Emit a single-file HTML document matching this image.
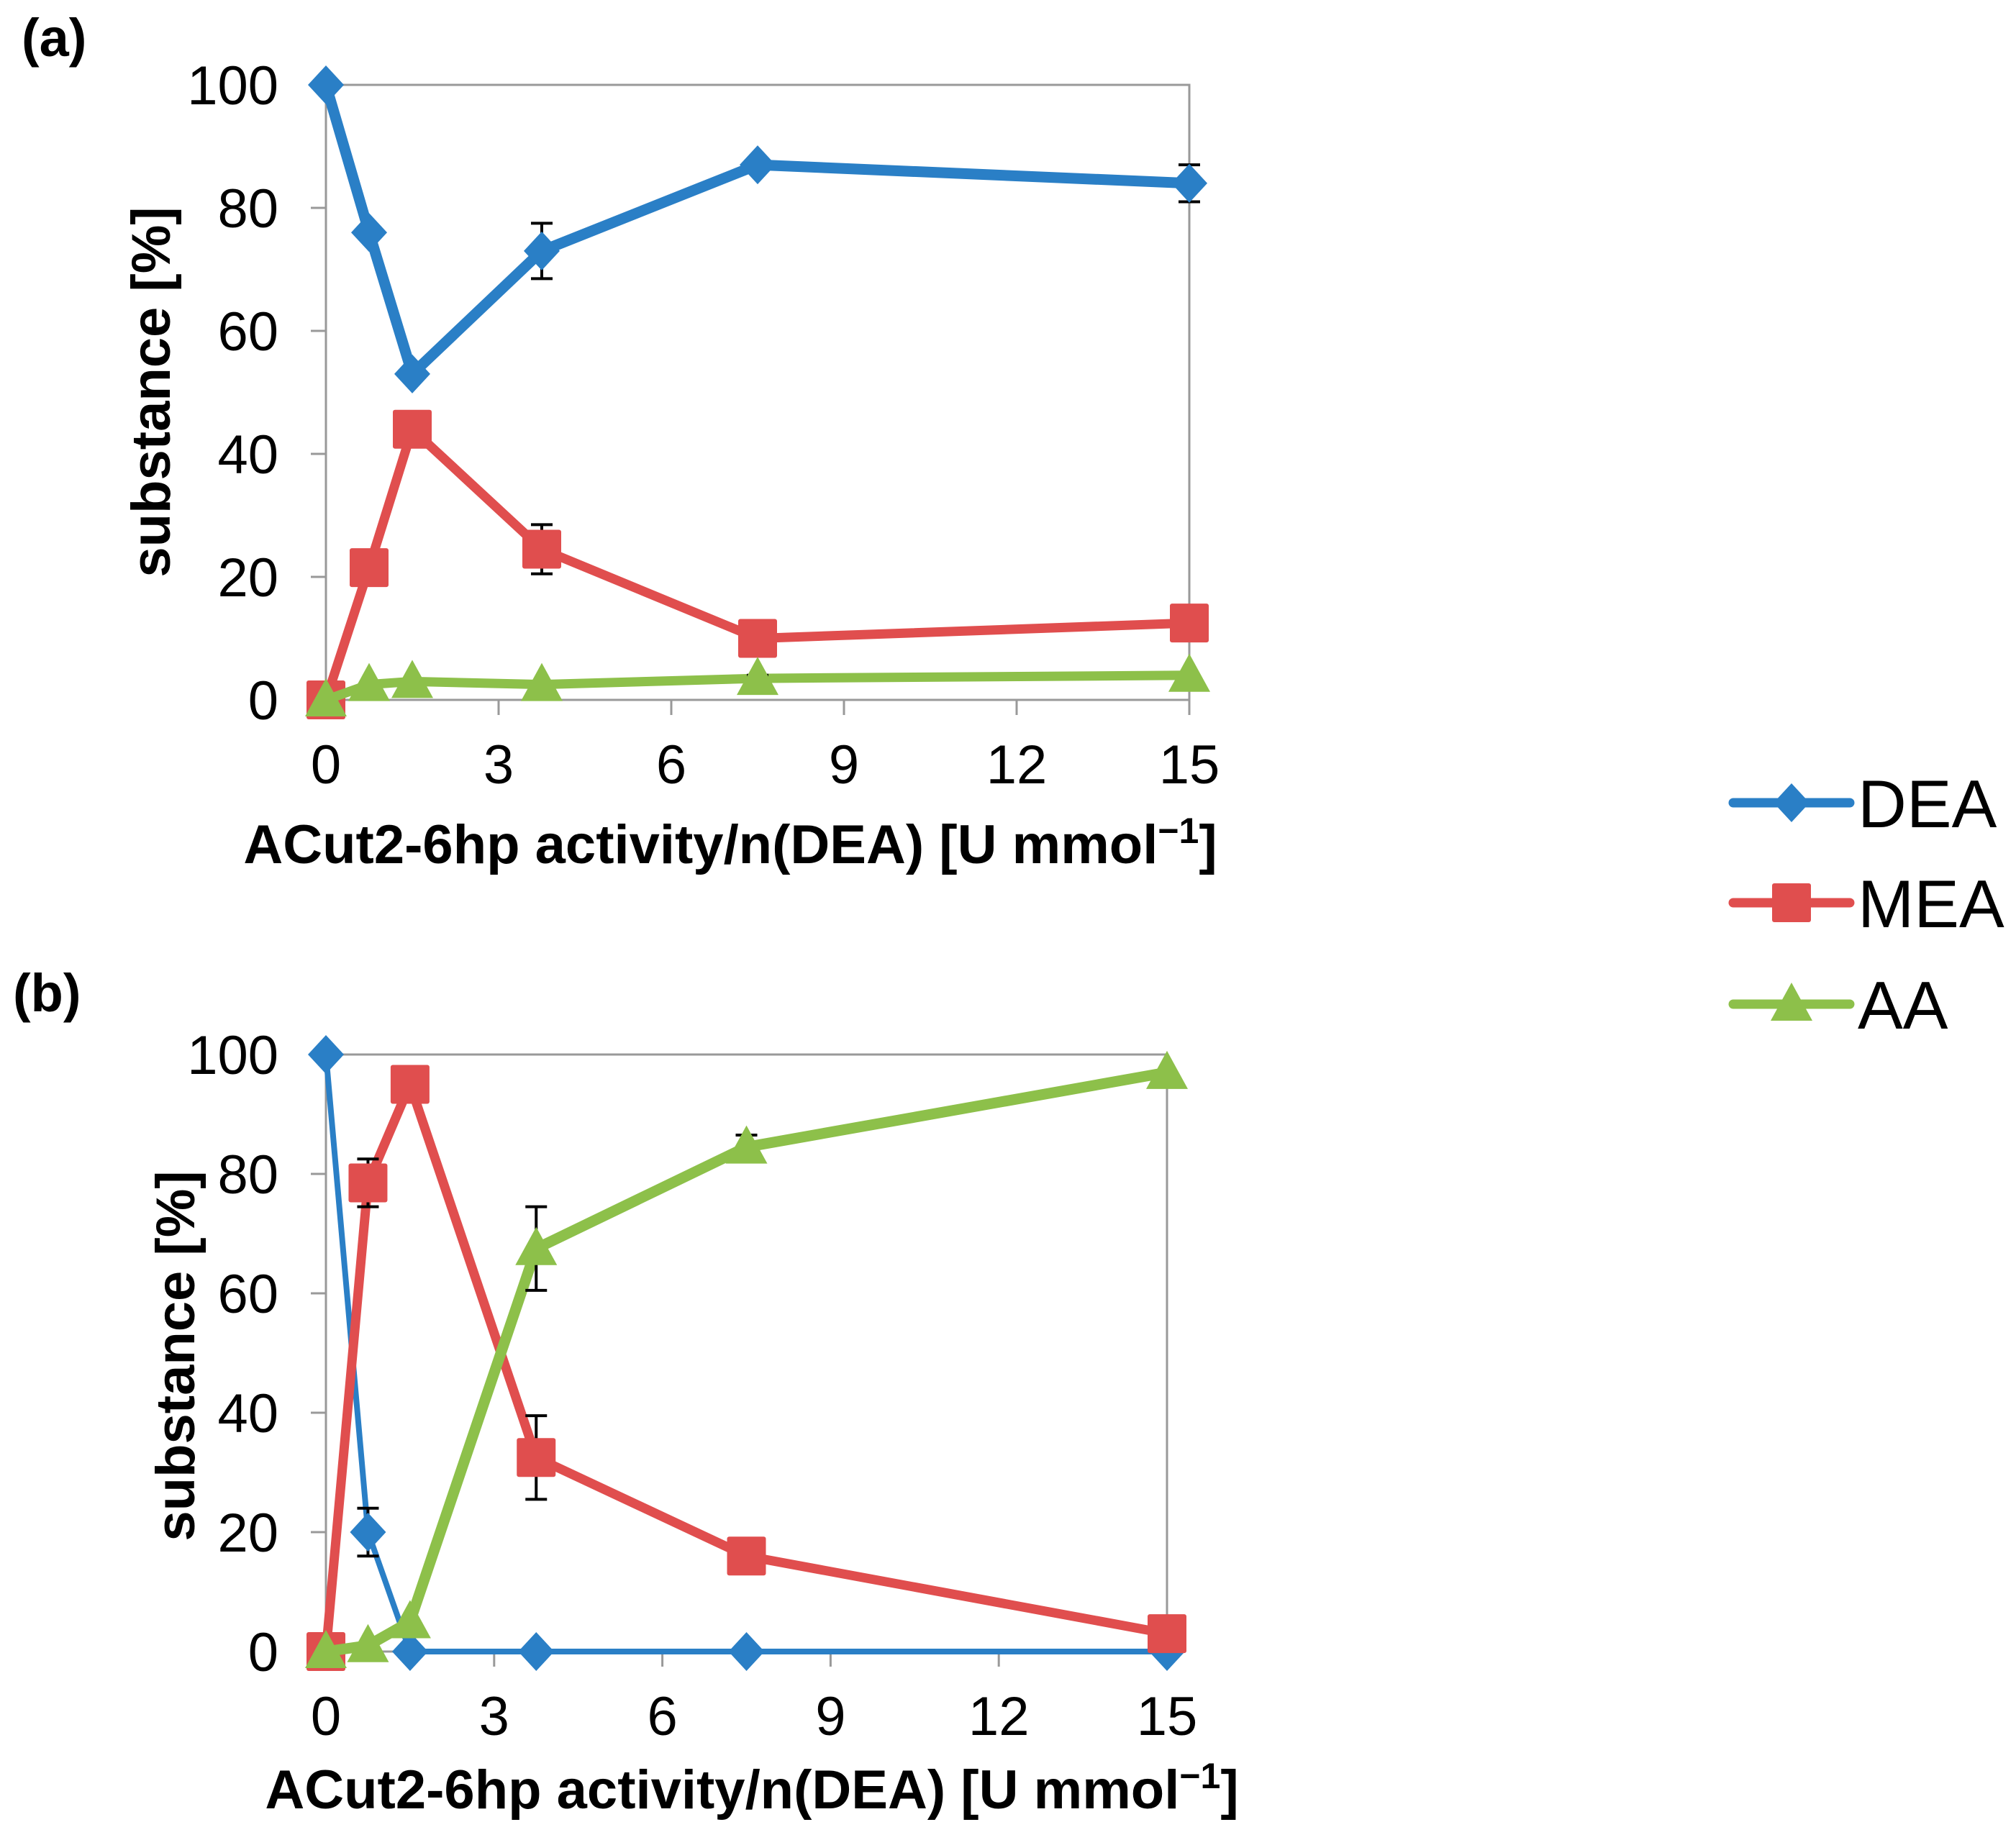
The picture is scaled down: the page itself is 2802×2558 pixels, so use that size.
<!DOCTYPE html>
<html><head><meta charset="utf-8"><style>
html,body{margin:0;padding:0;background:#fff;}
svg{display:block;}
text{font-family:"Liberation Sans",Arial,sans-serif;}
</style></head><body>
<svg id="fig" width="2802" height="2558" viewBox="0 0 2802 2558" xmlns="http://www.w3.org/2000/svg">
<rect width="2802" height="2558" fill="#fff"/>
<text x="30" y="78" font-size="74" font-weight="bold">(a)</text>
<text x="18" y="1406" font-size="74" font-weight="bold">(b)</text>
<g id="legend"></g>
</svg>
<script>
const xValues = [0, 0.75, 1.5, 3.75, 7.5, 15];
const xTicks = [0, 3, 6, 9, 12, 15];
const yTicks = [0, 20, 40, 60, 80, 100];
const seriesNames = ["DEA", "MEA", "AA"];
const colors = ["#2a7fc6", "#e04e4e", "#8dc04a"];

const aDEA = [100, 76, 53, 73, 87, 84];
const aMEA = [0, 21.5, 44, 24.5, 10, 12.5];
const aAA  = [0, 2.5, 3, 2.5, 3.5, 4];
const aDEAerr = [0, 0, 0, 4.5, 1, 3];
const aMEAerr = [0, 0, 0, 4, 0, 0];
const aAAerr  = [0, 0, 0, 0, 0.5, 0];

const bDEA = [100, 20, 0, 0, 0, 0];
const bMEA = [0, 78.5, 95, 32.5, 16, 3];
const bAA  = [0, 1, 5, 67.5, 84.5, 97];
const bDEAerr = [0, 4, 0, 0, 0, 0];
const bMEAerr = [0, 4, 0, 7, 0, 0];
const bAAerr  = [0, 0, 0, 7, 2, 0];

const NS = "http://www.w3.org/2000/svg";
const svg = document.getElementById("fig");
function mk(tag, attrs, parent){
  const e = document.createElementNS(NS, tag);
  for (const k in attrs) e.setAttribute(k, attrs[k]);
  (parent||svg).appendChild(e);
  return e;
}
function marker(kind, cx, cy, color, g){
  let e;
  if (kind === 0) e = mk("polygon", {points:`${cx},${cy-27} ${cx+25},${cy} ${cx},${cy+27} ${cx-25},${cy}`, fill:color}, g);
  else if (kind === 1) e = mk("rect", {x:cx-27, y:cy-27, width:54, height:54, rx:3, fill:color}, g);
  else e = mk("polygon", {points:`${cx},${cy-30} ${cx+29},${cy+23} ${cx-29},${cy+23}`, fill:color}, g);
  return e;
}
function drawPanel(p){
  const sx = v => p.x0 + (v - 0) / 15 * (p.x1 - p.x0);
  const sy = v => p.y0 - v / 100 * (p.y0 - p.y1);
  const g = mk("g", {});
  
  
  const fr = mk("rect", {x:p.x0, y:p.y1, width:p.x1-p.x0, height:p.y0-p.y1, fill:"none", stroke:"#999", "stroke-width":3}, g);
  
  
  yTicks.forEach(t => {
    const y = sy(t);
    const tk = mk("line", {x1:p.x0-21, x2:p.x0, y1:y, y2:y, stroke:"#999", "stroke-width":3}, g);
    
    
    const lb = mk("text", {x:p.x0-66, y:y+27, "font-size":76, "text-anchor":"end"}, g);
    lb.textContent = t;
    
    
  });
  xTicks.forEach(t => {
    const x = sx(t);
    const tk = mk("line", {x1:x, x2:x, y1:p.y0, y2:p.y0+21, stroke:"#999", "stroke-width":3}, g);
    
    
    const lb = mk("text", {x:x, y:p.y0+116, "font-size":76, "text-anchor":"middle"}, g);
    lb.textContent = t;
    
    
  });
  const xt = mk("text", {x:p.xtx, y:p.xty, "font-size":76, "font-weight":"bold", "text-anchor":"middle"}, g);
  xt.innerHTML = 'ACut2-6hp activity/n(DEA) [U mmol<tspan dy="-28" font-size="50">−1</tspan><tspan dy="28">]</tspan>';
  
  
  const yt = mk("text", {x:0, y:0, "font-size":76, "font-weight":"bold", "text-anchor":"middle", transform:`translate(${p.ytx},${p.yty}) rotate(-90)`}, g);
  yt.textContent = "substance [%]";
  
  
  p.series.forEach((s, i) => {
    const sg = mk("g", {}, g);
    
    
    const pts = xValues.map((xv, j) => sx(xv) + "," + sy(s[j])).join(" ");
    const ln = mk("polyline", {points:pts, fill:"none", stroke:colors[i], "stroke-width":p.widths[i], "stroke-linejoin":"round"}, sg);
    
    
    xValues.forEach((xv, j) => {
      const e = p.errs[i][j];
      if (e > 0) {
        const x = sx(xv), ya = sy(s[j] + e), yb = sy(s[j] - e);
        const eb = mk("path", {d:`M${x},${ya}V${yb}M${x-15},${ya}H${x+15}M${x-15},${yb}H${x+15}`, stroke:"#000", "stroke-width":4, fill:"none"}, sg);
        
        
      }
    });
    xValues.forEach((xv, j) => {
      const m = marker(i, sx(xv), sy(s[j]), colors[i], sg);
      
      
    });
  });
}
drawPanel({name:"chart-a", x0:453, x1:1653, y0:973, y1:118, xtx:1015, xty:1200, ytx:236, yty:545,
  series:[aDEA, aMEA, aAA], errs:[aDEAerr, aMEAerr, aAAerr], widths:[15,13,13]});
drawPanel({name:"chart-b", x0:453, x1:1622, y0:2296, y1:1466, xtx:1045, xty:2514, ytx:270, yty:1885,
  series:[bDEA, bMEA, bAA], errs:[bDEAerr, bMEAerr, bAAerr], widths:[8,13,15]});

const lg = document.getElementById("legend");
const legY = [1116, 1255, 1396];
seriesNames.forEach((n, i) => {
  const eg = mk("g", {}, lg);
  
  
  mk("line", {x1:2409, x2:2571, y1:legY[i], y2:legY[i], stroke:colors[i], "stroke-width":13, "stroke-linecap":"round"}, eg);
  marker(i, 2490, legY[i], colors[i], eg);
  const t = mk("text", {x:2582, y:legY[i]+34, "font-size":94}, eg);
  t.textContent = n;
});
</script>
</body></html>
